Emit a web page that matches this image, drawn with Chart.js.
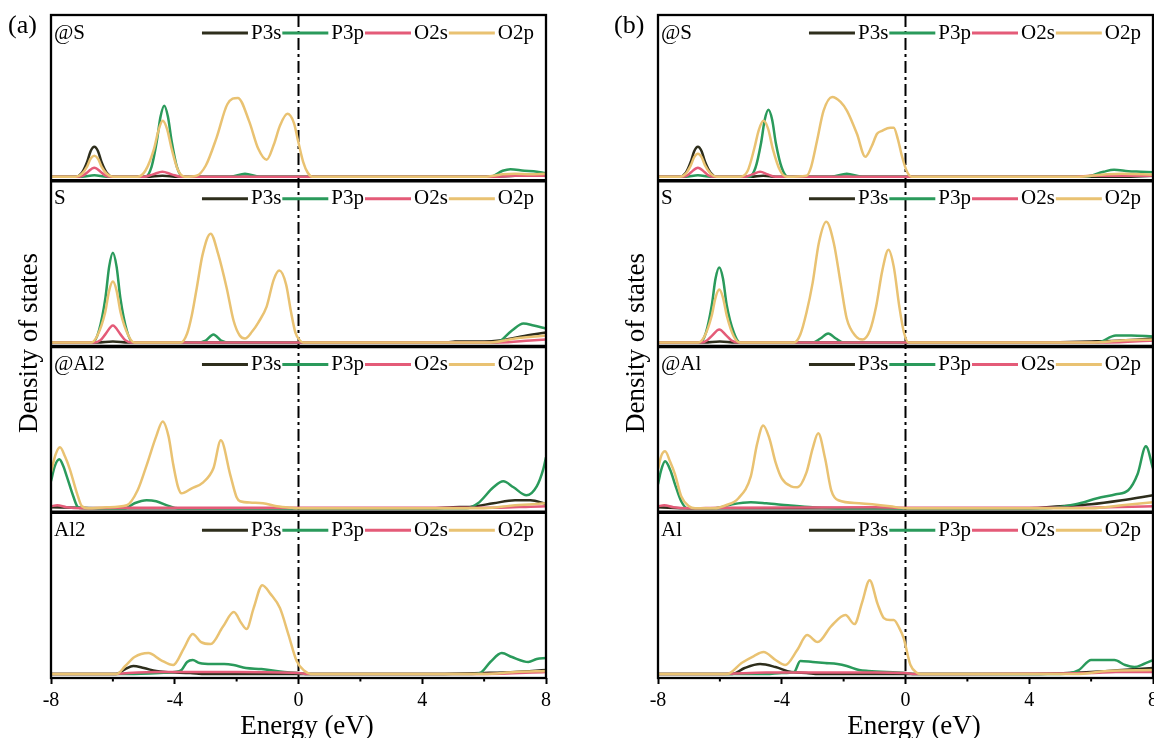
<!DOCTYPE html>
<html>
<head>
<meta charset="utf-8">
<script src="https://cdn.jsdelivr.net/npm/chart.js"></script>
<style>
  html, body { margin: 0; padding: 0; background: #fff; }
  #fig { position: relative; width: 1154px; height: 738px; overflow: hidden; background: #fff; }
  #fig canvas { position: absolute; top: 0; }
  .txt { position: absolute; font-family: "Liberation Serif", "Times New Roman", serif; color: #000; line-height: 1; white-space: nowrap; }
  .tag { font-size: 26px; }
  .xt { font-size: 27px; transform: translateX(-50%); }
  .yt { font-size: 27px; transform: translate(-50%, -50%) rotate(-90deg); }
</style>
</head>
<body>
<div id="fig">
  <canvas id="dosA" width="600" height="738" style="left:0px"></canvas>
  <canvas id="dosB" width="600" height="738" style="left:607px"></canvas>
  <div class="txt tag" style="left:8px;top:12px">(a)</div>
  <div class="txt tag" style="left:614px;top:12px">(b)</div>
  <div class="txt yt" style="left:28px;top:343px">Density of states</div>
  <div class="txt yt" style="left:635px;top:343px">Density of states</div>
  <div class="txt xt" style="left:307px;top:712px">Energy (eV)</div>
  <div class="txt xt" style="left:914px;top:712px">Energy (eV)</div>
</div>
<script>
// projected DOS, pairs of [energy (eV), DOS]
const orbitals = ['P3s', 'P3p', 'O2s', 'O2p'];
const labelsA = ['@S', 'S', '@Al2', 'Al2'];
const labelsB = ['@S', 'S', '@Al', 'Al'];

// ---- (a) @S
const a1_P3s = [[-8,0],[-7.2,0],[-7.0,0.2],[-6.83,0.75],[-6.72,1.28],[-6.6,1.5],[-6.48,1.28],[-6.37,0.75],[-6.2,0.2],[-6.0,0],[-4.9,0],[-4.4,0.05],[-3.9,0],[6.0,0],[7.0,0.05],[8,0.1]];
const a1_P3p = [[-8,0],[-7.0,0],[-6.6,0.08],[-6.2,0],[-4.95,0],[-4.75,0.5],[-4.58,1.78],[-4.46,3.0],[-4.34,3.55],[-4.22,3.0],[-4.1,1.78],[-3.93,0.5],[-3.73,0],[-2.2,0],[-1.73,0.15],[-1.25,0],[6.2,0],[6.6,0.3],[6.85,0.38],[7.3,0.3],[7.6,0.28],[8,0.18]];
const a1_O2s = [[-8,0],[-7.15,0],[-6.95,0.07],[-6.82,0.23],[-6.6,0.45],[-6.38,0.23],[-6.25,0.07],[-6.05,0],[-5.0,0],[-4.7,0.12],[-4.4,0.25],[-4.1,0.12],[-3.8,0],[6.3,0],[7.0,0.05],[8,0.05]];
const a1_O2p = [[-8,0],[-7.2,0],[-7.0,0.15],[-6.83,0.52],[-6.72,0.9],[-6.6,1.05],[-6.48,0.9],[-6.37,0.52],[-6.2,0.15],[-6.0,0],[-5.2,0],[-4.95,0.3],[-4.67,1.4],[-4.53,2.3],[-4.39,2.8],[-4.25,2.4],[-4.1,1.4],[-3.9,0.35],[-3.67,0],[-3.3,0.05],[-3.0,0.55],[-2.65,1.95],[-2.3,3.63],[-1.96,3.95],[-1.6,2.8],[-1.3,1.4],[-1.03,0.85],[-0.8,1.6],[-0.6,2.55],[-0.36,3.15],[-0.15,2.7],[0,1.7],[0.15,0.75],[0.3,0.2],[0.45,0],[6.0,0],[6.6,0.12],[7.0,0.15],[7.5,0.12],[8,0.15]];

// ---- (a) S
const a2_P3s = [[-8,0],[-6.5,0],[-6.0,0.05],[-5.5,0],[4.8,0],[5.06,0.05],[6.0,0.05],[6.5,0.1],[7.2,0.3],[8,0.5]];
const a2_P3p = [[-8,0],[-6.65,0],[-6.45,0.6],[-6.24,2.25],[-6.12,3.8],[-6.0,4.5],[-5.88,3.8],[-5.76,2.25],[-5.55,0.6],[-5.35,0],[-3.3,0],[-3.0,0.1],[-2.75,0.4],[-2.5,0.1],[-2.2,0],[6.4,0],[6.9,0.6],[7.27,0.95],[7.6,0.85],[8,0.7]];
const a2_O2s = [[-8,0],[-6.6,0],[-6.4,0.12],[-6.24,0.42],[-6.0,0.85],[-5.76,0.42],[-5.6,0.12],[-5.4,0],[6.5,0],[7.5,0.1],[8,0.15]];
const a2_O2p = [[-8,0],[-6.7,0],[-6.5,0.35],[-6.25,1.5],[-6.12,2.6],[-6.0,3.05],[-5.88,2.6],[-5.75,1.5],[-5.5,0.35],[-5.3,0],[-3.8,0],[-3.6,0.45],[-3.45,1.35],[-3.29,2.72],[-3.1,4.4],[-2.84,5.45],[-2.6,4.45],[-2.32,2.72],[-2.1,1.1],[-1.9,0.35],[-1.73,0.2],[-1.5,0.55],[-1.3,1.0],[-1.03,1.8],[-0.8,3.15],[-0.62,3.6],[-0.4,2.9],[-0.25,1.6],[-0.1,0.5],[0.05,0.1],[0.15,0],[6.2,0],[7.0,0.2],[8,0.35]];

// ---- (a) @Al2
const a3_P3s = [[-8,0.05],[-7,0.02],[-6,0],[4.25,0],[5.0,0.05],[5.6,0.08],[6.3,0.25],[7.0,0.4],[7.5,0.4],[8,0.22]];
const a3_P3p = [[-8,1.35],[-7.88,2.1],[-7.73,2.45],[-7.6,2.1],[-7.49,1.6],[-7.28,0.6],[-7.13,0.05],[-7.0,0],[-5.6,0],[-5.3,0.25],[-4.91,0.4],[-4.6,0.35],[-4.2,0.12],[-3.9,0],[5.43,0],[5.8,0.25],[6.3,1.05],[6.62,1.35],[6.95,1.05],[7.37,0.65],[7.7,1.1],[7.91,1.95],[8,2.55]];
const a3_O2s = [[-8,0.1],[-7.8,0.15],[-7.5,0.05],[-7.0,0],[-6,0.02],[-2,0.03],[0,0.02],[6.5,0.03],[7.5,0.08],[8,0.1]];
const a3_O2p = [[-8,1.8],[-7.85,2.7],[-7.71,3.05],[-7.55,2.6],[-7.39,1.95],[-7.17,0.8],[-7.0,0.1],[-6.8,0],[-6.2,0.05],[-5.55,0.15],[-5.2,0.9],[-4.91,2.15],[-4.6,3.6],[-4.39,4.35],[-4.2,3.6],[-4.05,2.2],[-3.9,1.1],[-3.78,0.75],[-3.45,1.0],[-3.08,1.3],[-2.75,2.0],[-2.51,3.4],[-2.21,1.7],[-2.0,0.55],[-1.89,0.35],[-1.5,0.28],[-1.15,0.25],[-0.7,0.1],[-0.2,0.02],[0,0],[6.0,0],[7.0,0.15],[8,0.25]];

// ---- (a) Al2
const a4_P3s = [[-8,0],[-5.9,0],[-5.6,0.25],[-5.34,0.4],[-5.0,0.3],[-4.6,0.15],[-4.3,0.1],[-3.5,0.05],[-3.0,0],[4.5,0],[6.0,0.05],[7.0,0.1],[8,0.2]];
const a4_P3p = [[-8,0],[-5.5,0],[-4.5,0.05],[-4.0,0.1],[-3.78,0.2],[-3.6,0.6],[-3.42,0.7],[-3.2,0.55],[-2.8,0.5],[-2.4,0.5],[-2.1,0.45],[-1.7,0.3],[-1.2,0.25],[-0.6,0.12],[0,0.05],[0.3,0],[5.6,0],[5.87,0.05],[6.2,0.6],[6.57,1.05],[6.9,0.85],[7.43,0.6],[7.7,0.75],[8,0.8]];
const a4_O2s = [[-8,0],[-6,0],[-5.5,0.05],[-4.5,0.1],[-2,0.1],[0,0.05],[0.3,0],[6,0],[8,0.1]];
const a4_O2p = [[-8,0],[-5.88,0],[-5.6,0.4],[-5.3,0.85],[-4.85,1.05],[-4.45,0.7],[-4.05,0.45],[-3.7,1.3],[-3.42,2.0],[-3.15,1.6],[-2.84,1.5],[-2.45,2.35],[-2.09,3.1],[-1.85,2.55],[-1.68,2.25],[-1.45,3.3],[-1.17,4.45],[-0.9,4.0],[-0.6,3.3],[-0.33,2.0],[-0.06,0.65],[0.2,0.15],[0.4,0],[6.0,0],[7.0,0.1],[8,0.15]];

// ---- (b) @S
const b1_P3s = [[-8,0],[-7.3,0],[-7.1,0.2],[-6.94,0.75],[-6.83,1.28],[-6.71,1.5],[-6.59,1.28],[-6.48,0.75],[-6.3,0.2],[-6.1,0],[-5.0,0],[-4.6,0.05],[-4.2,0],[7,0],[8,0.05]];
const b1_P3p = [[-8,0],[-7.1,0],[-6.71,0.08],[-6.3,0],[-5.05,0],[-4.85,0.45],[-4.67,1.68],[-4.55,2.85],[-4.43,3.35],[-4.31,2.85],[-4.19,1.68],[-4.0,0.45],[-3.8,0],[-2.4,0],[-1.9,0.15],[-1.4,0],[5.8,0],[6.4,0.25],[6.74,0.35],[7.2,0.28],[7.6,0.25],[8,0.22]];
const b1_O2s = [[-8,0],[-7.25,0],[-7.05,0.07],[-6.93,0.23],[-6.71,0.45],[-6.49,0.23],[-6.37,0.07],[-6.15,0],[-5.2,0],[-4.95,0.12],[-4.7,0.25],[-4.45,0.12],[-4.2,0],[5.5,0],[6,0.05],[8,0.05]];
const b1_O2p = [[-8,0],[-7.3,0],[-7.1,0.16],[-6.94,0.57],[-6.83,0.98],[-6.71,1.15],[-6.59,0.98],[-6.48,0.57],[-6.3,0.16],[-6.1,0],[-5.35,0],[-5.1,0.3],[-4.89,1.4],[-4.74,2.35],[-4.59,2.8],[-4.44,2.4],[-4.29,1.4],[-4.05,0.3],[-3.83,0],[-3.2,0.05],[-3.05,0.5],[-2.86,1.8],[-2.65,3.3],[-2.37,4.0],[-2.1,3.75],[-1.89,3.3],[-1.57,2.15],[-1.3,1.0],[-1.1,1.5],[-0.92,2.15],[-0.76,2.3],[-0.49,2.45],[-0.38,2.45],[-0.25,1.9],[-0.11,1.0],[0.05,0.25],[0.2,0],[5.5,0],[6.5,0.12],[7.0,0.15],[8,0.1]];

// ---- (b) S
const b2_P3s = [[-8,0],[-6.5,0],[-6.0,0.05],[-5.5,0],[4.5,0],[6,0.05],[7,0.1],[8,0.2]];
const b2_P3p = [[-8,0],[-6.65,0],[-6.45,0.5],[-6.26,1.88],[-6.14,3.2],[-6.02,3.75],[-5.9,3.2],[-5.78,1.88],[-5.55,0.5],[-5.35,0],[-3.0,0],[-2.75,0.2],[-2.5,0.45],[-2.25,0.2],[-2.0,0],[6.2,0],[6.8,0.35],[7.3,0.35],[8,0.3]];
const b2_O2s = [[-8,0],[-6.6,0],[-6.42,0.1],[-6.26,0.33],[-6.02,0.65],[-5.78,0.33],[-5.62,0.1],[-5.4,0],[6.5,0],[8,0.1]];
const b2_O2p = [[-8,0],[-6.7,0],[-6.5,0.3],[-6.27,1.3],[-6.14,2.25],[-6.02,2.65],[-5.9,2.25],[-5.77,1.3],[-5.55,0.3],[-5.35,0],[-3.6,0],[-3.4,0.4],[-3.2,1.5],[-3.0,3.0],[-2.8,5.0],[-2.56,6.05],[-2.32,5.0],[-2.1,3.0],[-1.9,1.2],[-1.6,0.3],[-1.39,0.15],[-1.15,0.6],[-0.95,1.8],[-0.75,3.6],[-0.55,4.65],[-0.38,3.8],[-0.2,1.8],[-0.05,0.5],[0.1,0],[6,0],[7,0.1],[8,0.15]];

// ---- (b) @Al
const b3_P3s = [[-8,0.05],[-7,0],[4.0,0],[5.0,0.1],[6.0,0.2],[7.0,0.4],[8,0.65]];
const b3_P3p = [[-8,1.2],[-7.9,1.9],[-7.77,2.35],[-7.6,1.9],[-7.45,1.2],[-7.25,0.35],[-7.05,0],[-6.2,0],[-5.6,0.2],[-5.0,0.3],[-4.5,0.25],[-3.8,0.15],[-3.0,0.05],[-2.0,0],[4.5,0],[5.5,0.2],[6.2,0.5],[6.8,0.7],[7.2,0.9],[7.5,1.7],[7.77,3.1],[8,2.0]];
const b3_O2s = [[-8,0.1],[-7.8,0.15],[-7.5,0.05],[-7,0],[-6,0.03],[-1,0.05],[0,0.02],[6,0.03],[8,0.1]];
const b3_O2p = [[-8,1.95],[-7.9,2.6],[-7.77,2.85],[-7.6,2.3],[-7.45,1.7],[-7.25,0.6],[-7.0,0.1],[-6.8,0],[-6.2,0],[-5.8,0.15],[-5.4,0.5],[-5.0,1.6],[-4.8,3.2],[-4.6,4.15],[-4.4,3.5],[-4.2,2.3],[-4.0,1.5],[-3.7,1.1],[-3.5,1.05],[-3.2,1.8],[-3.0,3.0],[-2.82,3.75],[-2.6,2.5],[-2.4,0.9],[-2.17,0.4],[-1.5,0.25],[-0.5,0.1],[0,0],[6,0],[7,0.15],[8,0.3]];

// ---- (b) Al
const b4_P3s = [[-8,0],[-5.6,0],[-5.2,0.3],[-4.7,0.5],[-4.2,0.35],[-3.7,0.1],[-3.2,0.05],[-2.8,0],[4,0],[6,0.1],[7,0.2],[8,0.3]];
const b4_P3p = [[-8,0],[-4.5,0],[-4.0,0.05],[-3.6,0.1],[-3.4,0.65],[-3.0,0.6],[-2.6,0.55],[-2.2,0.5],[-1.9,0.4],[-1.5,0.2],[-1.2,0.15],[0,0.05],[0.3,0],[5,0],[5.6,0.2],[6.0,0.7],[6.75,0.7],[7.1,0.45],[7.4,0.35],[7.7,0.5],[8,0.7]];
const b4_O2s = [[-8,0],[-6,0],[-4.5,0.08],[-1,0.08],[0,0.05],[0.3,0],[6,0.05],[6.8,0.1],[8,0.1]];
const b4_O2p = [[-8,0],[-5.77,0],[-5.3,0.55],[-4.9,0.9],[-4.59,1.1],[-4.2,0.7],[-3.89,0.45],[-3.5,1.2],[-3.18,1.95],[-2.84,1.6],[-2.4,2.4],[-1.94,2.95],[-1.65,2.5],[-1.4,3.6],[-1.16,4.7],[-0.9,3.5],[-0.7,2.8],[-0.5,2.7],[-0.38,2.7],[-0.2,2.3],[-0.06,1.8],[0.16,0.45],[0.38,0.05],[0.5,0],[5.5,0],[6.5,0.15],[8,0.2]];

const orbitalColors = ['#2e2e1c', '#2a9a5b', '#e45b78', '#e9c272'];
const serif = '"Liberation Serif", "Times New Roman", serif';

// frame, Fermi level, panel labels and legend rows
const dosFrame = {
  id: 'dosFrame',
  beforeDatasetsDraw(chart) {
    const {ctx, chartArea: a, scales} = chart;
    const x0 = scales.x.getPixelForValue(0);
    ctx.save();
    ctx.strokeStyle = '#000';
    ctx.lineWidth = 2;
    ctx.setLineDash([12, 4, 3, 4]);
    ctx.beginPath();
    ctx.moveTo(x0, a.top);
    ctx.lineTo(x0, a.bottom);
    ctx.stroke();
    ctx.restore();
  },
  afterDatasetsDraw(chart, args, opts) {
    const {ctx, chartArea: a, scales} = chart;
    ctx.save();
    ctx.strokeStyle = '#000';
    ctx.lineWidth = 2.3;
    ctx.strokeRect(a.left, a.top, a.right - a.left, a.bottom - a.top);
    ctx.lineWidth = 3.5;
    for (let i = 1; i < 4; i++) {
      const y = scales['y' + i].top;
      ctx.beginPath();
      ctx.moveTo(a.left, y);
      ctx.lineTo(a.right, y);
      ctx.stroke();
    }
    // minor ticks
    ctx.lineWidth = 2;
    [-6, -2, 2, 6].forEach(v => {
      const x = scales.x.getPixelForValue(v);
      ctx.beginPath();
      ctx.moveTo(x, a.bottom);
      ctx.lineTo(x, a.bottom + 3.5);
      ctx.stroke();
    });
    ctx.textBaseline = 'middle';
    ctx.textAlign = 'left';
    opts.labels.forEach((lab, i) => {
      const yy = scales['y' + i].top + 18;
      ctx.fillStyle = '#000';
      ctx.font = '21px ' + serif;
      ctx.fillText(lab, a.left + 3, yy);
      drawLegend(ctx, a.right - 12, yy);
    });
    ctx.restore();
  }
};

function drawLegend(ctx, right, y) {
  ctx.font = '21px ' + serif;
  const widths = orbitals.map(t => ctx.measureText(t).width);
  let total = 0;
  widths.forEach(w => { total += 46 + 3 + w + 1; });
  let x = right - total + 1;
  orbitals.forEach((name, k) => {
    ctx.strokeStyle = orbitalColors[k];
    ctx.lineWidth = 2.8;
    ctx.beginPath();
    ctx.moveTo(x, y);
    ctx.lineTo(x + 46, y);
    ctx.stroke();
    x += 49;
    ctx.fillStyle = '#000';
    ctx.fillText(name, x, y);
    x += widths[k] + 1;
  });
}

function makePanel(id, labels, subplots) {
  const datasets = [];
  subplots.forEach((sub, i) => {
    sub.forEach((pts, k) => {
      datasets.push({
        label: orbitals[k],
        data: pts.map(p => ({x: p[0], y: p[1]})),
        yAxisID: 'y' + i,
        borderColor: orbitalColors[k],
        borderWidth: 2.5,
        pointRadius: 0,
        fill: false,
        cubicInterpolationMode: 'monotone',
        order: 3 - k
      });
    });
  });

  const scales = {
    x: {
      type: 'linear',
      position: 'bottom',
      min: -8,
      max: 8,
      ticks: {stepSize: 4, color: '#000', padding: 5, maxRotation: 0, font: {family: serif, size: 20}},
      grid: {drawOnChartArea: false, drawTicks: true, tickLength: 6, tickWidth: 2, tickColor: '#000'},
      border: {display: false}
    }
  };
  // stacked boxes are laid out bottom-up, so add the lowest subplot first
  for (let i = 3; i >= 0; i--) {
    scales['y' + i] = {type: 'linear', display: false, stack: 'dos', stackWeight: 1, min: -0.2, max: 8.1};
  }

  return new Chart(document.getElementById(id), {
    type: 'line',
    data: {datasets: datasets},
    options: {
      responsive: false,
      animation: false,
      events: [],
      layout: {padding: {left: 51, right: 54, top: 15, bottom: 20}},
      plugins: {legend: {display: false}, tooltip: {enabled: false}, dosFrame: {labels: labels}},
      scales: scales
    },
    plugins: [dosFrame]
  });
}

makePanel('dosA', labelsA, [
  [a1_P3s, a1_P3p, a1_O2s, a1_O2p],
  [a2_P3s, a2_P3p, a2_O2s, a2_O2p],
  [a3_P3s, a3_P3p, a3_O2s, a3_O2p],
  [a4_P3s, a4_P3p, a4_O2s, a4_O2p]
]);
makePanel('dosB', labelsB, [
  [b1_P3s, b1_P3p, b1_O2s, b1_O2p],
  [b2_P3s, b2_P3p, b2_O2s, b2_O2p],
  [b3_P3s, b3_P3p, b3_O2s, b3_O2p],
  [b4_P3s, b4_P3p, b4_O2s, b4_O2p]
]);
</script>
</body>
</html>
